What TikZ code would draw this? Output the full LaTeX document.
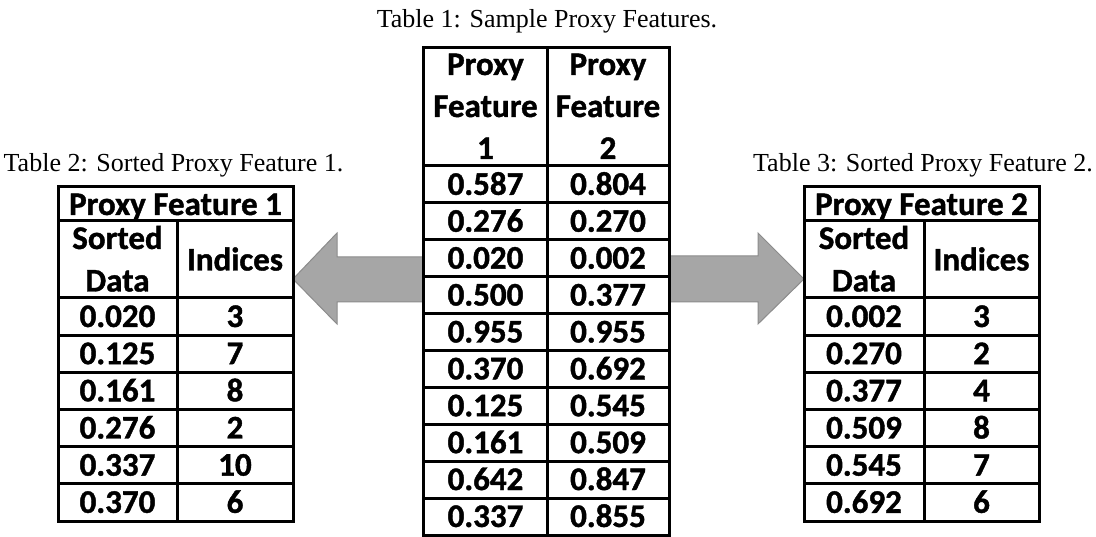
\documentclass[tikz,border=0pt]{standalone}
\usepackage{fontspec}
\setmainfont{Liberation Serif}
\newfontfamily\tabfont{Carlito Bold}[FakeBold=1.2]
\definecolor{arrowfill}{HTML}{A6A6A6}
\definecolor{arrowline}{HTML}{8C8C8C}
\begin{document}
\begin{tikzpicture}[x=1pt,y=-1pt,
  rule/.style={line width=3pt, line cap=rect},
  frame/.style={draw, line width=3pt, inner sep=0pt, outer sep=0pt},
  num/.style={font=\tabfont\fontsize{33}{36}\selectfont, inner sep=0pt, anchor=base},
  captext/.style={font=\fontsize{26}{30}\selectfont, inner sep=0pt, anchor=base},
  bigarrow/.style={fill=arrowfill, draw=arrowline, line width=1pt, line join=miter}]
\useasboundingbox (0,0) rectangle (1096,537);

% table outlines
\node[frame, minimum width=246pt, minimum height=487pt] (t1) at (546,291.5) {};
\node[frame, minimum width=235pt, minimum height=334pt] (t2) at (175.5,354) {};
\node[frame, minimum width=235pt, minimum height=334pt] (t3) at (921.5,354) {};

% arrows
\draw[bigarrow] (t2.east |- 0,279) -- (337,233) -- (337,257) -- (t1.west |- 0,257)
  -- (t1.west |- 0,302) -- (337,302) -- (337,324) -- cycle;
\draw[bigarrow] (t3.west |- 0,279) -- (758,233) -- (758,256) -- (t1.east |- 0,256)
  -- (t1.east |- 0,302) -- (758,302) -- (758,324) -- cycle;

% redraw outlines on top
\draw[rule] (t1.north west) rectangle (t1.south east);
\draw[rule] (t2.north west) rectangle (t2.south east);
\draw[rule] (t3.north west) rectangle (t3.south east);

% captions
\node[captext] (cap1) at (547,28) {Table 1: Sample Proxy Features.};
\node[captext] (cap2) at (173.5,172) {Table 2: Sorted Proxy Feature 1.};
\node[captext] (cap3) at (923,172) {Table 3: Sorted Proxy Feature 2.};

% ---- center table
\draw[rule] (547.7,48) -- (547.7,535);
\foreach \k in {0,...,9} {
  \draw[rule] (t1.west |- 0,{166+36.9*\k}) -- (t1.east |- 0,{166+36.9*\k});
}
\node[num] (h1a) at (485.5,75) {Proxy};
\node[num] (h1b) at (485.5,117) {Feature};
\node[num] (h1c) at (485.5,159) {1};
\node[num] (h2a) at (608,75) {Proxy};
\node[num] (h2b) at (608,117) {Feature};
\node[num] (h2c) at (608,159) {2};
\foreach \a/\b [count=\i from 0] in {0.587/0.804,0.276/0.270,0.020/0.002,0.500/0.377,0.955/0.955,0.370/0.692,0.125/0.545,0.161/0.509,0.642/0.847,0.337/0.855} {
  \node[num] (ca\i) at (485.5,{166+36.9*(\i+0.5)+10.4}) {\a};
  \node[num] (cb\i) at (608,{166+36.9*(\i+0.5)+10.4}) {\b};
}

% ---- left table
\draw[rule] (t2.west |- 0,221) -- (t2.east |- 0,221);
\draw[rule] (177,221) -- (177,521);
\foreach \k in {0,...,5} {
  \draw[rule] (t2.west |- 0,{298+37.17*\k}) -- (t2.east |- 0,{298+37.17*\k});
}
\node[num] (l0) at (175.5,215) {Proxy Feature 1};
\node[num] (l1) at (117.5,249) {Sorted};
\node[num] (l2) at (117.5,291.5) {Data};
\node[num] (l3) at (235,270.5) {Indices};
\foreach \a/\b [count=\i from 0] in {0.020/3,0.125/7,0.161/8,0.276/2,0.337/10,0.370/6} {
  \node[num] (la\i) at (117.5,{298+37.17*(\i+0.5)+10.4}) {\a};
  \node[num] (lb\i) at (235,{298+37.17*(\i+0.5)+10.4}) {\b};
}

% ---- right table
\draw[rule] (t3.west |- 0,221) -- (t3.east |- 0,221);
\draw[rule] (924,221) -- (924,521);
\foreach \k in {0,...,5} {
  \draw[rule] (t3.west |- 0,{298+37.17*\k}) -- (t3.east |- 0,{298+37.17*\k});
}
\node[num] (r0) at (921.5,215) {Proxy Feature 2};
\node[num] (r1) at (864,249) {Sorted};
\node[num] (r2) at (864,291.5) {Data};
\node[num] (r3) at (981.5,270.5) {Indices};
\foreach \a/\b [count=\i from 0] in {0.002/3,0.270/2,0.377/4,0.509/8,0.545/7,0.692/6} {
  \node[num] (ra\i) at (864,{298+37.17*(\i+0.5)+10.4}) {\a};
  \node[num] (rb\i) at (981.5,{298+37.17*(\i+0.5)+10.4}) {\b};
}
\end{tikzpicture}
\end{document}
